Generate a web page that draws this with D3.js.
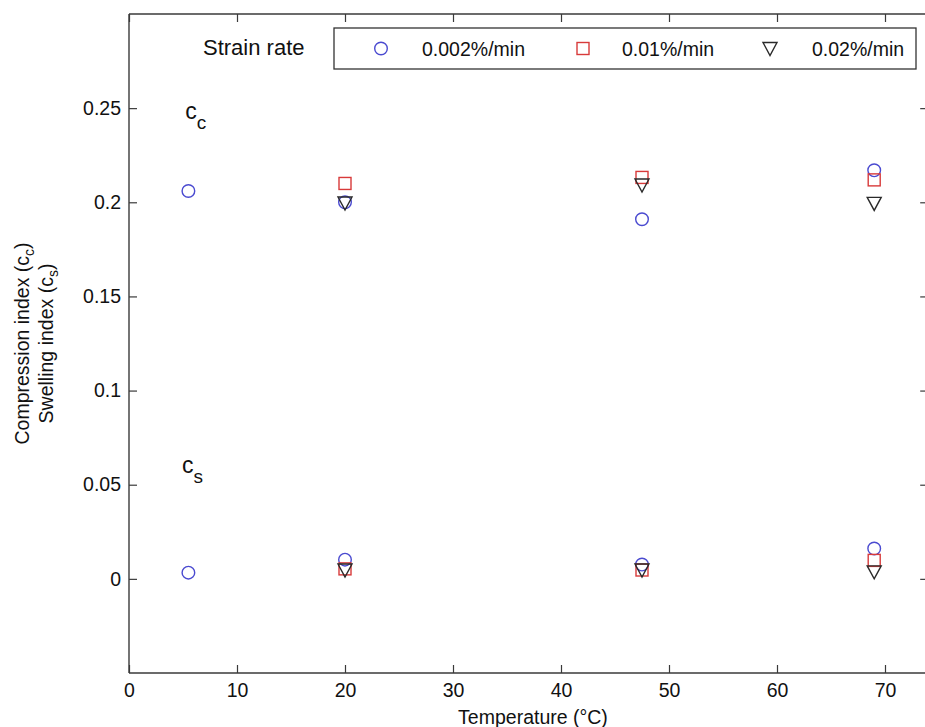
<!DOCTYPE html>
<html>
<head>
<meta charset="utf-8">
<script src="https://cdn.jsdelivr.net/npm/d3@7"></script>
<style>
  html, body { margin: 0; padding: 0; background: #fff; }
  svg { display: block; font-family: "Liberation Sans", Arial, Helvetica, sans-serif; }
</style>
</head>
<body>
<svg id="chart" width="925" height="727"></svg>
<script>
// ---- data ----
const xTicks = [0, 10, 20, 30, 40, 50, 60, 70];
const yTicks = [0, 0.05, 0.1, 0.15, 0.2, 0.25];
const yTickLabels = ["0", "0.05", "0.1", "0.15", "0.2", "0.25"];

const tempCircle = [5.5, 20, 47.5, 69];
const ccCircle = [0.206, 0.2, 0.191, 0.217];
const csCircle = [0.0033, 0.0102, 0.0076, 0.0161];

const tempSquare = [20, 47.5, 69];
const ccSquare = [0.210, 0.2132, 0.2119];
const csSquare = [0.0053, 0.0047, 0.0098];

const tempTriangle = [20, 47.5, 69];
const ccTriangle = [0.1996, 0.2092, 0.1994];
const csTriangle = [0.0047, 0.0047, 0.0037];

const legendLabels = ["0.002%/min", "0.01%/min", "0.02%/min"];

// ---- layout ----
const svg = d3.select("#chart");
const mLeft = 129, mTop = 14, mBottom = 673;
const x = d3.scaleLinear().domain([0, 74]).range([mLeft, mLeft + 10.8 * 74]);
const y = d3.scaleLinear().domain([-0.05, 0.3]).range([mBottom, mTop]);
const mRight = x(74);

const axisColor = "#3a3a3a";
const fontSize = 19.5;
const blue = "#4a4ad0", red = "#d83a3a", black = "#2a2a2a";

// axes box
const g = svg.append("g");
const bottomAxis = g.append("g").attr("transform", `translate(0,${mBottom})`)
  .call(d3.axisBottom(x).tickValues(xTicks).tickSizeInner(-8).tickSizeOuter(0).tickPadding(10));
const topAxis = g.append("g").attr("transform", `translate(0,${mTop})`)
  .call(d3.axisTop(x).tickValues(xTicks).tickSizeInner(-8).tickSizeOuter(0).tickFormat(""));
const leftAxis = g.append("g").attr("transform", `translate(${mLeft},0)`)
  .call(d3.axisLeft(y).tickValues(yTicks).tickSizeInner(-8).tickSizeOuter(0).tickPadding(8)
    .tickFormat((d, i) => yTickLabels[i]));
const rightAxis = g.append("g").attr("transform", `translate(${mRight},0)`)
  .call(d3.axisRight(y).tickValues(yTicks).tickSizeInner(-8).tickSizeOuter(0).tickFormat(""));

[bottomAxis, topAxis, leftAxis, rightAxis].forEach(a => {
  a.select(".domain").attr("stroke", axisColor).attr("stroke-width", 1.4);
  a.selectAll(".tick line").attr("stroke", axisColor).attr("stroke-width", 1.2);
  a.selectAll(".tick text").attr("fill", "#111").style("font-size", fontSize + "px")
    .style("font-family", "'Liberation Sans', Arial, sans-serif");
});
leftAxis.select(".domain").attr("d", `M0,${mTop}V${mBottom}`);
rightAxis.select(".domain").attr("d", `M0,${mTop}V${mBottom}`);
bottomAxis.select(".domain").attr("d", `M${mLeft},0H${mRight}`);
topAxis.select(".domain").attr("d", `M${mLeft},0H${mRight}`);

// axis labels
svg.append("text").attr("x", 533).attr("y", 724).attr("text-anchor", "middle")
  .style("font-size", fontSize + "px").attr("fill", "#111").text("Temperature (°C)");

const yl1 = svg.append("text").attr("transform", `translate(29,${(mTop + mBottom) / 2}) rotate(-90)`)
  .attr("text-anchor", "middle").style("font-size", fontSize + "px").attr("fill", "#111");
yl1.append("tspan").text("Compression index (c");
yl1.append("tspan").attr("dy", 5).style("font-size", "14px").text("c");
yl1.append("tspan").attr("dy", -5).text(")");

const yl2 = svg.append("text").attr("transform", `translate(53,${(mTop + mBottom) / 2}) rotate(-90)`)
  .attr("text-anchor", "middle").style("font-size", fontSize + "px").attr("fill", "#111");
yl2.append("tspan").text("Swelling index (c");
yl2.append("tspan").attr("dy", 5).style("font-size", "14px").text("s");
yl2.append("tspan").attr("dy", -5).text(")");

// annotations c_c and c_s
function annot(px, py, sub) {
  const t = svg.append("text").attr("x", px).attr("y", py).attr("fill", "#111").style("font-size", "23px");
  t.append("tspan").text("c");
  t.append("tspan").attr("dy", 10).style("font-size", "19px").text(sub);
}
annot(x(5.2), y(0.2442), "c");
annot(x(4.9), y(0.0562), "s");

// markers
const trianglePath = "M-7,-6L7,-6L0,7Z";
function circles(xs, ys) {
  svg.append("g").selectAll("circle").data(xs).join("circle")
    .attr("cx", (d) => x(d)).attr("cy", (d, i) => y(ys[i])).attr("r", 6.3)
    .attr("fill", "none").attr("stroke", blue).attr("stroke-width", 1.4);
}
function squares(xs, ys) {
  svg.append("g").selectAll("rect").data(xs).join("rect")
    .attr("x", (d) => x(d) - 6).attr("y", (d, i) => y(ys[i]) - 6).attr("width", 12).attr("height", 12)
    .attr("fill", "none").attr("stroke", red).attr("stroke-width", 1.4);
}
function triangles(xs, ys) {
  svg.append("g").selectAll("path").data(xs).join("path")
    .attr("transform", (d, i) => `translate(${x(d)},${y(ys[i])})`).attr("d", trianglePath)
    .attr("fill", "none").attr("stroke", black).attr("stroke-width", 1.4).attr("stroke-linejoin", "miter");
}
circles(tempCircle, ccCircle);
circles(tempCircle, csCircle);
squares(tempSquare, ccSquare);
squares(tempSquare, csSquare);
triangles(tempTriangle, ccTriangle);
triangles(tempTriangle, csTriangle);

// legend
svg.append("text").attr("x", 203).attr("y", 55).style("font-size", "22px").attr("fill", "#111").text("Strain rate");
svg.append("rect").attr("x", 334).attr("y", 28).attr("width", 582).attr("height", 41)
  .attr("fill", "#fff").attr("stroke", "#333").attr("stroke-width", 1.3);
const legY = 48.5;
const legendMarkX = [381, 583, 770];
const legendTextX = [422, 622, 812];
svg.append("circle").attr("cx", legendMarkX[0]).attr("cy", legY).attr("r", 6.3)
  .attr("fill", "none").attr("stroke", blue).attr("stroke-width", 1.4);
svg.append("rect").attr("x", legendMarkX[1] - 6).attr("y", legY - 6).attr("width", 12).attr("height", 12)
  .attr("fill", "none").attr("stroke", red).attr("stroke-width", 1.4);
svg.append("path").attr("transform", `translate(${legendMarkX[2]},${legY})`).attr("d", trianglePath)
  .attr("fill", "none").attr("stroke", black).attr("stroke-width", 1.4);
legendLabels.forEach((lab, i) => {
  svg.append("text").attr("x", legendTextX[i]).attr("y", legY + 7).style("font-size", fontSize + "px")
    .attr("fill", "#111").text(lab);
});
</script>
</body>
</html>
